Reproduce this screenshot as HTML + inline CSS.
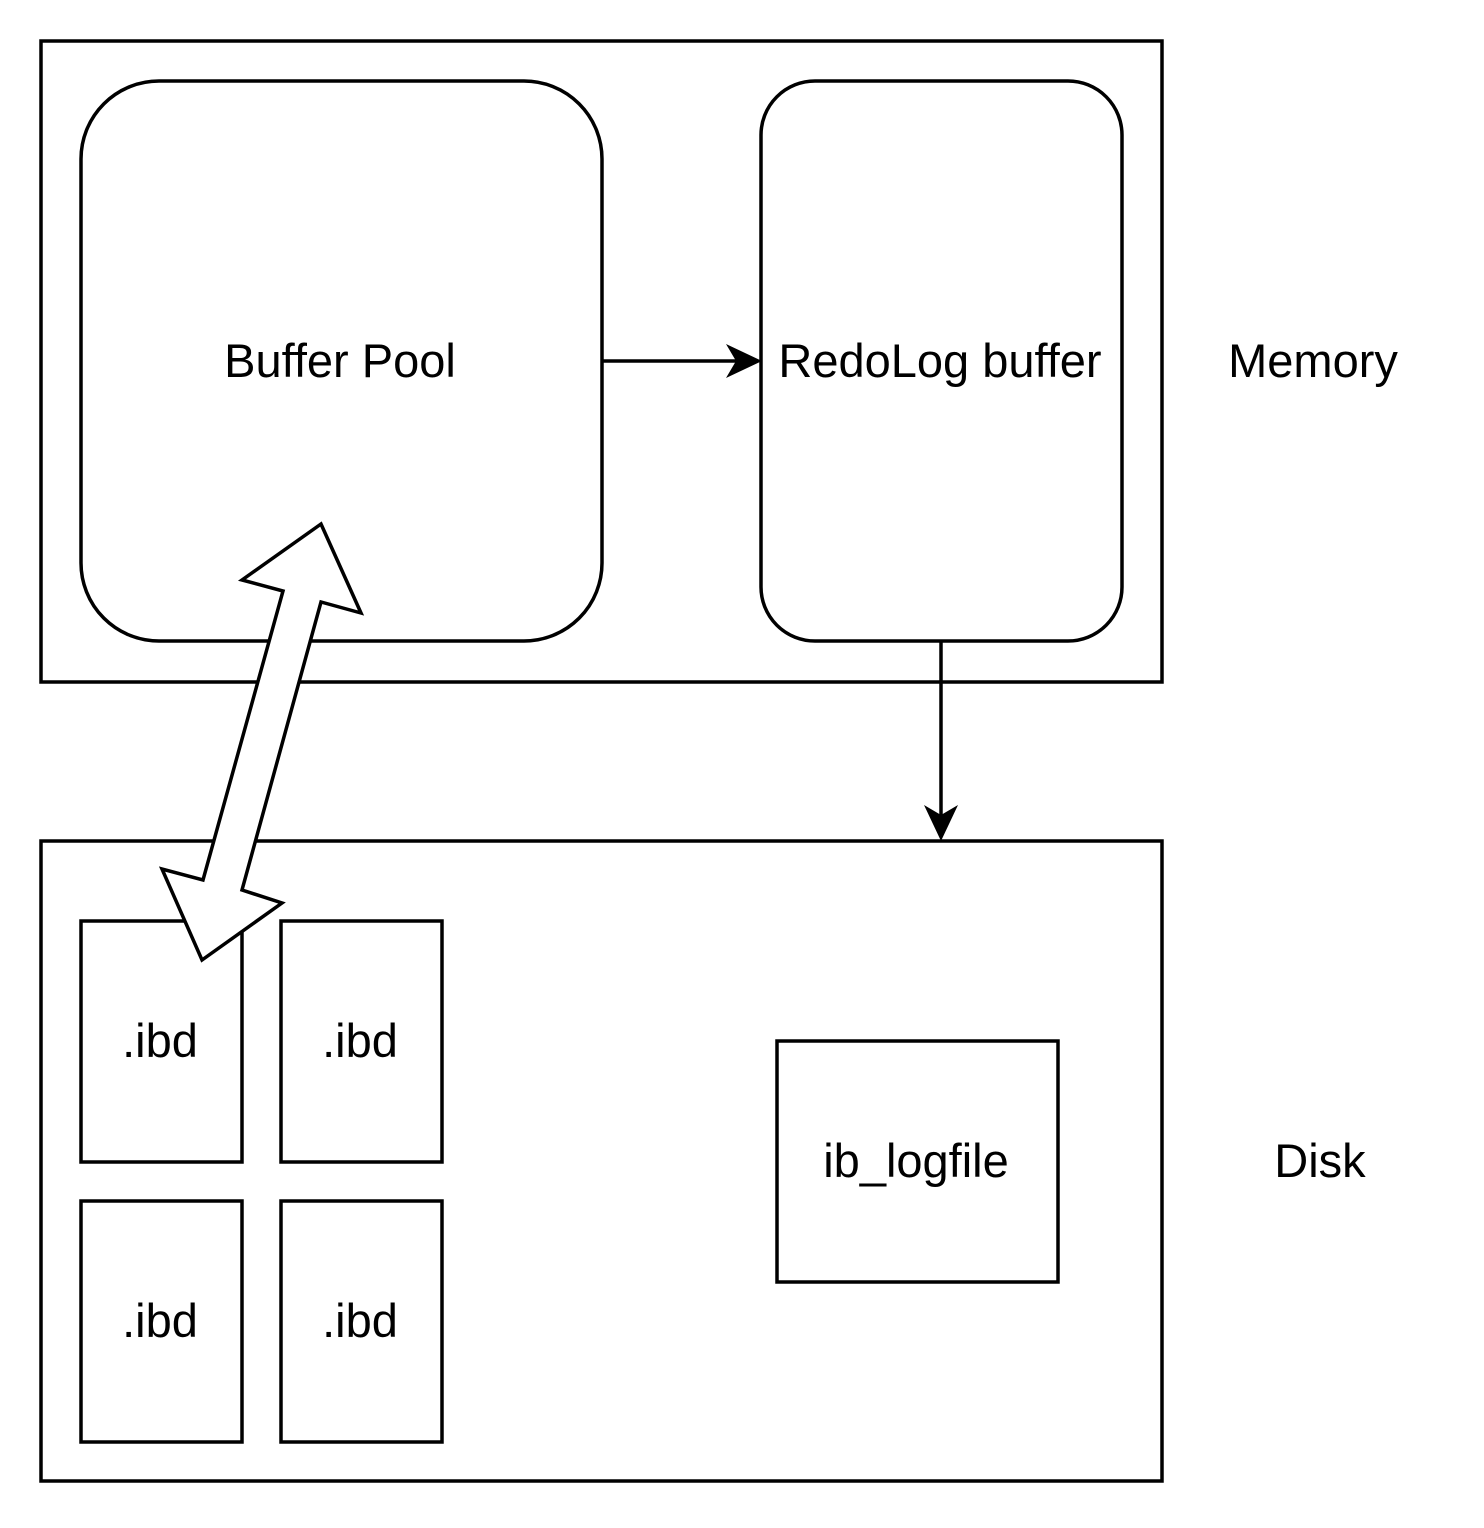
<!DOCTYPE html>
<html><head><meta charset="utf-8"><style>html,body{margin:0;padding:0;background:#fff}svg{display:block}</style></head>
<body>
<svg width="1484" height="1528" viewBox="0 0 1484 1528" xmlns="http://www.w3.org/2000/svg" font-family="'Liberation Sans', Arial, sans-serif" font-size="47" fill="none" stroke="#000" stroke-width="3.5">
<rect x="41" y="41" width="1121" height="641" fill="#fff"/>
<rect x="81" y="81" width="521" height="560" rx="78" ry="78" fill="#fff"/>
<rect x="761" y="81" width="361" height="560" rx="54" ry="54" fill="#fff"/>
<line x1="602" y1="361" x2="740" y2="361"/>
<path d="M762 361 L726 344 L736 361 L726 378 Z" fill="#000" stroke="none"/>
<line x1="941" y1="641" x2="941" y2="820"/>
<path d="M941 841 L924 805 L941 815 L958 805 Z" fill="#000" stroke="none"/>
<rect x="41" y="841" width="1121" height="640" fill="#fff"/>
<rect x="81" y="921" width="161" height="241"/>
<rect x="281" y="921" width="161" height="241"/>
<rect x="81" y="1201" width="161" height="241"/>
<rect x="281" y="1201" width="161" height="241"/>
<rect x="777" y="1041" width="281" height="241"/>
<path d="M321 524 L361 613 L321 602 L242 890 L282 903 L202 960 L162 869 L203 880 L283 591 L242 580 Z" fill="#fff" stroke-linejoin="miter"/>
<g fill="#000" stroke="none" text-anchor="middle">
<text x="340" y="377">Buffer Pool</text>
<text x="940" y="377">RedoLog buffer</text>
<text x="1313" y="377">Memory</text>
<text x="1320" y="1177">Disk</text>
<text x="160" y="1057">.ibd</text>
<text x="360" y="1057">.ibd</text>
<text x="160" y="1337">.ibd</text>
<text x="360" y="1337">.ibd</text>
<text x="916" y="1177">ib_logfile</text>
</g>
</svg>
</body></html>
